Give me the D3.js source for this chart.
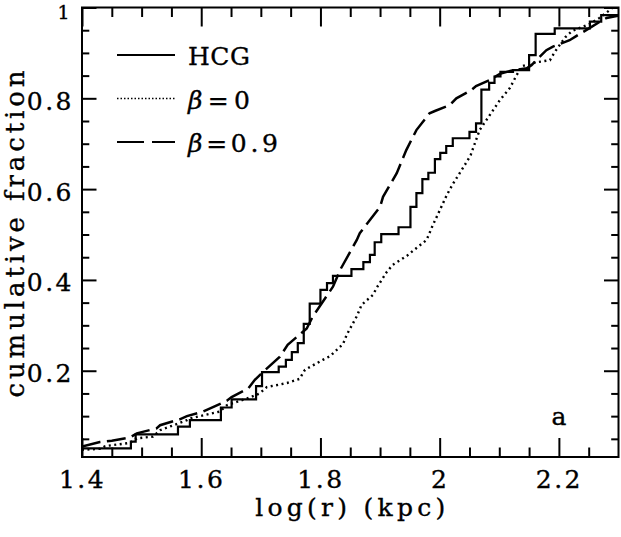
<!DOCTYPE html>
<html>
<head>
<meta charset="utf-8">
<script src="https://cdn.jsdelivr.net/npm/d3@7"></script>
<style>
  body { margin: 0; background: #fff; }
  svg { display: block; }
  text { font-family: "DejaVu Serif", serif; fill: #000; stroke: #000; stroke-width: 0.35; }
</style>
</head>
<body>
<svg id="chart" width="621" height="537"></svg>
<script>
// HCG observed cumulative distribution (step positions in log r, fraction after step)
const hcgX = [1.38, 1.482, 1.490, 1.561, 1.581, 1.633, 1.651, 1.692, 1.702, 1.730, 1.742, 1.752, 1.762, 1.772, 1.782,
  1.800, 1.811, 1.821, 1.852, 1.872, 1.883, 1.891, 1.902, 1.931, 1.951, 1.961, 1.971, 1.981, 1.992, 2.001,
  2.011, 2.022, 2.050, 2.061, 2.070, 2.083, 2.092, 2.102, 2.123, 2.150, 2.161, 2.193, 2.252, 2.271, 2.30];
const hcgY = [0.029, 0.044, 0.060, 0.077, 0.091, 0.119, 0.137, 0.166, 0.197, 0.209, 0.224, 0.241, 0.261, 0.303, 0.348,
  0.378, 0.393, 0.409, 0.424, 0.439, 0.455, 0.483, 0.501, 0.516, 0.561, 0.591, 0.622, 0.636, 0.666, 0.680,
  0.695, 0.712, 0.726, 0.745, 0.819, 0.834, 0.848, 0.858, 0.862, 0.895, 0.942, 0.954, 0.969, 0.983, 0.983];

// model beta = 0 (dotted)
const beta0X = [1.400, 1.430, 1.439, 1.480, 1.492, 1.519, 1.531, 1.576, 1.581, 1.631, 1.643, 1.677, 1.698, 1.710,
  1.744, 1.765, 1.774, 1.804, 1.816, 1.838, 1.844, 1.861, 1.869, 1.888, 1.895, 1.911, 1.921, 1.945, 1.957,
  1.978, 1.988, 2.012, 2.022, 2.044, 2.052, 2.067, 2.084, 2.101, 2.118, 2.129, 2.139, 2.156, 2.185, 2.193,
  2.211, 2.222, 2.252, 2.268, 2.285, 2.290];
const beta0Y = [0.026, 0.028, 0.034, 0.041, 0.051, 0.055, 0.069, 0.091, 0.095, 0.110, 0.124, 0.139, 0.150, 0.164,
  0.173, 0.182, 0.202, 0.224, 0.232, 0.259, 0.279, 0.320, 0.345, 0.367, 0.384, 0.417, 0.433, 0.453, 0.466,
  0.488, 0.519, 0.587, 0.611, 0.657, 0.675, 0.730, 0.763, 0.796, 0.823, 0.851, 0.871, 0.878, 0.884, 0.902,
  0.935, 0.948, 0.964, 0.977, 0.994, 1.000];

// model beta = 0.9 (dashed)
const beta09X = [1.400, 1.430, 1.450, 1.480, 1.492, 1.525, 1.531, 1.564, 1.576, 1.603, 1.615, 1.643, 1.651, 1.679,
  1.690, 1.701, 1.732, 1.745, 1.777, 1.787, 1.821, 1.833, 1.861, 1.866, 1.900, 1.905, 1.928, 1.944, 1.961,
  1.983, 1.992, 2.017, 2.028, 2.053, 2.061, 2.084, 2.101, 2.123, 2.146, 2.154, 2.179, 2.190, 2.218, 2.229,
  2.252, 2.268, 2.280, 2.299];
const beta09Y = [0.033, 0.043, 0.046, 0.053, 0.062, 0.073, 0.080, 0.093, 0.100, 0.110, 0.117, 0.134, 0.142, 0.161,
  0.180, 0.194, 0.231, 0.257, 0.293, 0.319, 0.385, 0.422, 0.488, 0.503, 0.561, 0.583, 0.635, 0.686, 0.730,
  0.767, 0.772, 0.785, 0.800, 0.818, 0.827, 0.840, 0.854, 0.862, 0.866, 0.873, 0.906, 0.914, 0.928, 0.937,
  0.955, 0.968, 0.977, 0.982];

const xMajor = [1.4, 1.6, 1.8, 2.0, 2.2];
const yMajor = [0.2, 0.4, 0.6, 0.8, 1.0];
const legendLabels = ["HCG", "\u03b2=0", "\u03b2=0.9"];

const svg = d3.select("#chart");
const pLeft = 82, pRight = 618.5, pTop = 7.5, pBottom = 457;

const x = d3.scaleLinear().domain([1.4, 2.3]).range([pLeft, pRight]);
const y = d3.scaleLinear().domain([0.01, 1]).range([pBottom, pTop]);

const xMinor = d3.range(1.45, 2.3, 0.05).filter(v => Math.abs(v / 0.2 - Math.round(v / 0.2)) > 0.01);
const yMinor = d3.range(0.05, 1.0, 0.05).filter(v => Math.abs(v / 0.2 - Math.round(v / 0.2)) > 0.01);

const fmt = d => String(+d.toFixed(1));

// clip for curves
svg.append("clipPath").attr("id", "plot-clip")
  .append("rect").attr("x", pLeft).attr("y", pTop).attr("width", pRight - pLeft).attr("height", pBottom - pTop);

// axes, ticks pointing inward on all sides
function addAxis(axis, tx, ty, cls) {
  const g = svg.append("g").attr("class", cls).attr("transform", `translate(${tx},${ty})`).call(axis);
  g.select(".domain").remove();
  g.selectAll("line").attr("stroke", "#000").attr("stroke-width", 2);
  return g;
}

const xb = addAxis(d3.axisBottom(x).tickValues(xMajor).tickSize(-19).tickPadding(28).tickFormat(fmt), 0, pBottom, "xb");
addAxis(d3.axisBottom(x).tickValues(xMinor).tickSize(-9.5).tickFormat(""), 0, pBottom, "xbm");
addAxis(d3.axisTop(x).tickValues(xMajor).tickSize(-19).tickFormat(""), 0, pTop, "xt");
addAxis(d3.axisTop(x).tickValues(xMinor).tickSize(-9.5).tickFormat(""), 0, pTop, "xtm");

const yl = addAxis(d3.axisLeft(y).tickValues(yMajor).tickSize(-14.5).tickPadding(8).tickFormat(fmt), pLeft, 0, "yl");
addAxis(d3.axisLeft(y).tickValues(yMinor).tickSize(-7.3).tickFormat(""), pLeft, 0, "ylm");
addAxis(d3.axisRight(y).tickValues(yMajor).tickSize(-14.5).tickFormat(""), pRight, 0, "yr");
addAxis(d3.axisRight(y).tickValues(yMinor).tickSize(-7.3).tickFormat(""), pRight, 0, "yrm");

xb.selectAll("text")
  .attr("font-family", "DejaVu Serif").attr("font-size", 25).attr("letter-spacing", 2.5)
  .attr("dy", null).attr("y", 31);
yl.selectAll("text")
  .attr("font-family", "DejaVu Serif").attr("letter-spacing", 2.5)
  .attr("font-size", d => d === 1 ? 19 : 25)
  .attr("dy", null).attr("x", d => d === 1 ? -10 : -8)
  .attr("y", d => d === 1 ? 11 : 11);

// frame
svg.append("rect")
  .attr("x", pLeft).attr("y", pTop).attr("width", pRight - pLeft).attr("height", pBottom - pTop)
  .attr("fill", "none").attr("stroke", "#000").attr("stroke-width", 2);

// curves
const plot = svg.append("g").attr("clip-path", "url(#plot-clip)");

const stepLine = d3.line().x(d => x(d[0])).y(d => y(d[1])).curve(d3.curveStepAfter);
const plainLine = d3.line().x(d => x(d[0])).y(d => y(d[1]));

plot.append("path")
  .datum(d3.zip(beta0X, beta0Y))
  .attr("d", plainLine)
  .attr("fill", "none").attr("stroke", "#000").attr("stroke-width", 2.4)
  .attr("stroke-dasharray", "2,3.5");

plot.append("path")
  .datum(d3.zip(beta09X, beta09Y))
  .attr("d", plainLine)
  .attr("fill", "none").attr("stroke", "#000").attr("stroke-width", 2.5)
  .attr("stroke-dasharray", "19,6.5");

plot.append("path")
  .datum(d3.zip(hcgX, hcgY))
  .attr("d", stepLine)
  .attr("fill", "none").attr("stroke", "#000").attr("stroke-width", 2.2);

// legend
const legendStyles = [
  { dash: null, width: 1.8, len: 62 },
  { dash: "1.5,2", width: 1.6, len: 62 },
  { dash: "27,8", width: 2, len: 90 }
];
const legend = svg.append("g").attr("transform", "translate(117,55)");
const items = legend.selectAll("g")
  .data(legendLabels)
  .enter()
  .append("g")
  .attr("transform", (d, i) => `translate(0,${i * 43.5})`);

items.append("line")
  .attr("x1", 0).attr("x2", 58).attr("y1", 0).attr("y2", 0)
  .attr("stroke", "#000")
  .attr("stroke-width", (d, i) => legendStyles[i].width)
  .attr("stroke-dasharray", (d, i) => legendStyles[i].dash);

items.append("text")
  .attr("x", 71).attr("y", 10)
  .attr("font-size", 25)
  .attr("textLength", (d, i) => legendStyles[i].len)
  .attr("lengthAdjust", "spacing")
  .each(function (d, i) {
    const t = d3.select(this);
    if (i === 0) { t.text(d); return; }
    t.append("tspan").attr("font-style", "italic").text("\u03b2");
    t.append("tspan").text(d.slice(1));
  });

// panel letter
svg.append("text")
  .attr("x", 559).attr("y", 425)
  .attr("text-anchor", "middle")
  .attr("font-family", "DejaVu Sans").attr("font-size", 25)
  .text("a");

// axis titles
svg.append("text")
  .attr("x", (pLeft + pRight) / 2).attr("y", 516)
  .attr("text-anchor", "middle")
  .attr("font-size", 25)
  .attr("textLength", 190).attr("lengthAdjust", "spacing")
  .text("log(r) (kpc)");

svg.append("text")
  .attr("transform", "translate(24,234) rotate(-90)")
  .attr("text-anchor", "middle")
  .attr("font-size", 26)
  .attr("textLength", 327).attr("lengthAdjust", "spacing")
  .text("cumulative fraction");
</script>
</body>
</html>
